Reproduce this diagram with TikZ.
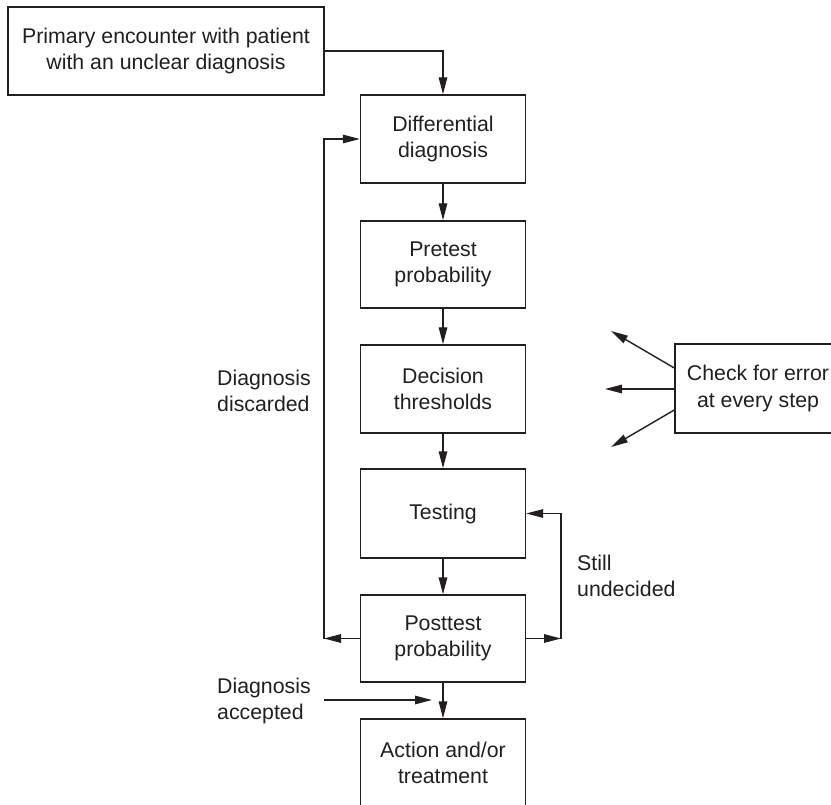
\documentclass[tikz,border=0pt]{standalone}
\usepackage{fontspec}
\setmainfont{Liberation Sans}
\usetikzlibrary{arrows.meta,calc}
\definecolor{ink}{HTML}{231F20}
\begin{document}
\begin{tikzpicture}[x=1pt,y=-1pt,
  every node/.style={font=\fontsize{21.3}{26.5}\selectfont, text=ink},
  box/.style={draw=ink, line width=1.4pt, minimum width=165pt, minimum height=88pt, align=center, inner sep=0pt},
  lbl/.style={anchor=west, align=left, inner sep=0pt},
  arr/.style={draw=ink, line width=1.4pt, -{Triangle[length=17pt,width=8.5pt]}},
  ln/.style={draw=ink, line width=1.4pt}]
\useasboundingbox (0,0) rectangle (831,805);
\clip (0,0) rectangle (831,805);
\node[box, minimum width=316pt] (top) at (166,51) {Primary encounter with patient\\with an unclear diagnosis};
\node[box] (dd) at (443,139) {Differential\\diagnosis};
\node[box, minimum height=87pt] (pre) at (443,264.5) {Pretest\\probability};
\node[box] (dec) at (443,389) {Decision\\thresholds};
\node[box, minimum height=89pt] (tst) at (443,513.5) {Testing};
\node[box, minimum height=87pt] (post) at (443,638.5) {Posttest\\probability};
\node[box] (act) at (443,763) {Action and/or\\treatment};
\node[box, minimum width=166pt, minimum height=89pt] (chk) at (758,388.5) {Check for error\\at every step};
\node[lbl] (ldis) at (217,391) {Diagnosis\\discarded};
\node[lbl] (lund) at (577,576) {Still\\undecided};
\node[lbl] (lacc) at (217,701) {Diagnosis\\accepted};
\draw[arr] (top.east) -| (dd.north);
\draw[arr] (dd) -- (pre);
\draw[arr] (pre) -- (dec);
\draw[arr] (dec) -- (tst);
\draw[arr] (tst) -- (post);
\draw[arr] (post) -- (act);
\coordinate (lc) at (324,638.5);
\coordinate (rc) at (561,638.5);
\draw[arr] (post.west) -- (lc);
\draw[arr] (lc) |- (dd.west);
\draw[arr] (post.east) -- (rc);
\draw[arr] (rc) |- (tst.east);
\coordinate (as) at (324,700);
\coordinate (ae) at (432,700);
\draw[arr] (as) -- (ae);
\coordinate (e1) at (611,331);
\coordinate (e2) at (605,389);
\coordinate (e3) at (611,447);
\draw[arr] ($(chk.west)+(0,-20.5)$) -- (e1);
\draw[arr] ($(chk.west)+(0,0.5)$) -- (e2);
\draw[arr] ($(chk.west)+(0,21.5)$) -- (e3);
\end{tikzpicture}
\end{document}
